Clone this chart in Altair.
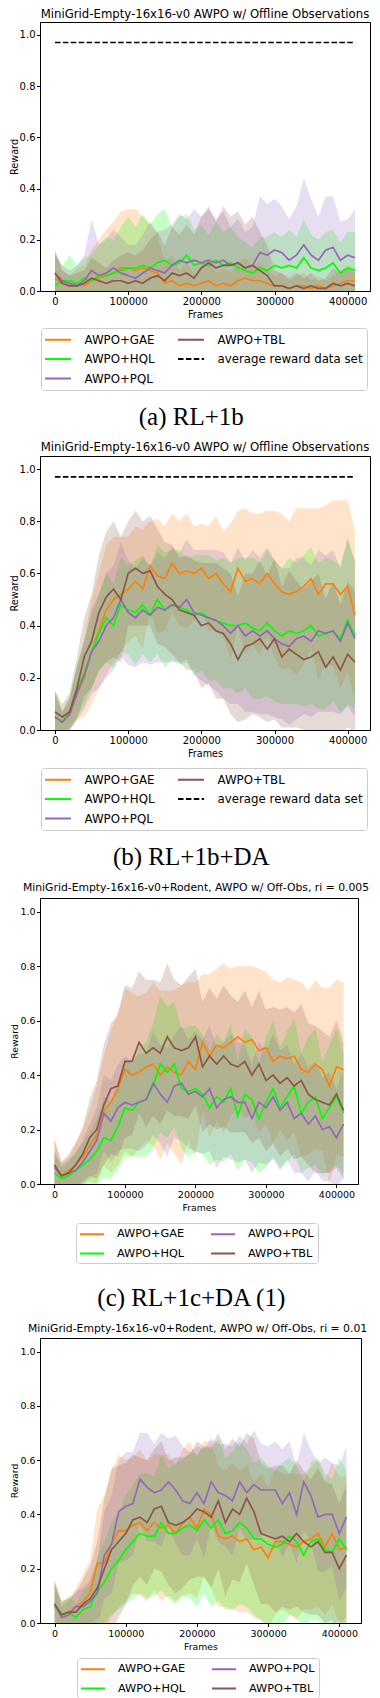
import altair as alt
import pandas as pd

FRAMES = [0, 10000, 20000, 30000, 40000, 50000, 60000, 70000, 80000, 90000,
          100000, 110000, 120000, 130000, 140000, 150000, 160000, 170000, 180000, 190000,
          200000, 210000, 220000, 230000, 240000, 250000, 260000, 270000, 280000, 290000,
          300000, 310000, 320000, 330000, 340000, 350000, 360000, 370000, 380000, 390000,
          400000, 410000]

GAE, HQL, PQL, TBL = "AWPO+GAE", "AWPO+HQL", "AWPO+PQL", "AWPO+TBL"
AVG = "average reward data set"
SERIES = [GAE, HQL, PQL, TBL]
COLORS = {GAE: "#ff7f0e", HQL: "#00ff00", PQL: "#9467bd", TBL: "#8c564b", AVG: "#000000"}

AVG_FRAMES = [0, 410000]
AVG_REWARD = [0.97, 0.97]

TITLE_A = "MiniGrid-Empty-16x16-v0 AWPO w/ Offline Observations"
TITLE_C = "MiniGrid-Empty-16x16-v0+Rodent, AWPO w/ Off-Obs, ri = 0.005"
TITLE_D = "MiniGrid-Empty-16x16-v0+Rodent, AWPO w/ Off-Obs, ri = 0.01"
CAPTIONS = ["(a) RL+1b", "(b) RL+1b+DA", "(c) RL+1c+DA (1)"]

A_GAE = [0.05,0.03,0.02,0.03,0.02,0.04,0.05,0.06,0.07,0.09, 0.09,0.08,0.09,0.08,0.07,0.03,0.04,0.02,0.03,0.02,
         0.03,0.04,0.02,0.03,0.02,0.04,0.05,0.04,0.04,0.03, 0.02,0.02,0.01,0.02,0.02,0.01,0.02,0.01,0.02,0.03, 0.04,0.04]
A_GAE_SD = [0.10,0.05,0.04,0.06,0.08,0.12,0.15,0.18,0.20,0.22, 0.23,0.24,0.20,0.18,0.15,0.08,0.10,0.06,0.08,0.05,
            0.07,0.08,0.05,0.06,0.05,0.07,0.08,0.06,0.07,0.05, 0.04,0.05,0.03,0.04,0.05,0.03,0.04,0.03,0.04,0.05, 0.06,0.05]
A_HQL = [0.02,0.04,0.04,0.03,0.05,0.04,0.06,0.06,0.07,0.08, 0.09,0.09,0.10,0.09,0.11,0.12,0.10,0.11,0.14,0.10,
         0.11,0.10,0.12,0.10,0.11,0.09,0.08,0.07,0.09,0.08, 0.10,0.09,0.10,0.09,0.13,0.09,0.08,0.09,0.11,0.07, 0.09,0.08]
A_HQL_SD = [0.12,0.06,0.10,0.07,0.08,0.10,0.12,0.15,0.13,0.17, 0.20,0.16,0.20,0.17,0.19,0.20,0.15,0.18,0.16,0.14,
            0.15,0.12,0.15,0.13,0.14,0.12,0.11,0.10,0.12,0.13, 0.13,0.12,0.14,0.12,0.15,0.13,0.12,0.14,0.13,0.12, 0.14,0.15]
A_PQL = [0.07,0.04,0.03,0.02,0.04,0.08,0.06,0.07,0.09,0.07, 0.06,0.05,0.07,0.09,0.08,0.07,0.10,0.12,0.11,0.12,
         0.11,0.12,0.11,0.12,0.10,0.11,0.09,0.10,0.15,0.14, 0.16,0.15,0.12,0.14,0.18,0.14,0.12,0.16,0.17,0.12, 0.14,0.13]
A_PQL_SD = [0.08,0.06,0.05,0.08,0.10,0.20,0.12,0.13,0.15,0.14, 0.12,0.13,0.15,0.18,0.15,0.17,0.16,0.18,0.17,0.20,
            0.18,0.20,0.17,0.19,0.15,0.17,0.14,0.15,0.22,0.20, 0.20,0.18,0.16,0.19,0.26,0.22,0.17,0.21,0.20,0.15, 0.14,0.19]
A_TBL = [0.07,0.03,0.02,0.02,0.03,0.05,0.04,0.03,0.04,0.04, 0.03,0.04,0.03,0.05,0.06,0.04,0.07,0.06,0.07,0.05,
         0.09,0.11,0.09,0.10,0.10,0.11,0.09,0.10,0.08,0.06, 0.02,0.02,0.01,0.02,0.01,0.02,0.01,0.01,0.03,0.02, 0.03,0.02]
A_TBL_SD = [0.09,0.05,0.04,0.05,0.05,0.08,0.07,0.06,0.08,0.10, 0.12,0.10,0.13,0.15,0.17,0.14,0.18,0.16,0.19,0.17,
            0.20,0.22,0.18,0.23,0.19,0.20,0.17,0.19,0.15,0.12, 0.06,0.05,0.04,0.05,0.04,0.05,0.03,0.04,0.06,0.05, 0.06,0.05]

B_GAE = [0.05,0.03,0.06,0.14,0.20,0.30,0.38,0.46,0.50,0.52, 0.54,0.57,0.54,0.63,0.59,0.58,0.64,0.60,0.61,0.60,
         0.62,0.58,0.60,0.56,0.53,0.62,0.57,0.58,0.56,0.60, 0.56,0.53,0.52,0.53,0.55,0.58,0.52,0.56,0.56,0.52, 0.55,0.44]
B_GAE_SD = [0.10,0.04,0.06,0.10,0.15,0.20,0.22,0.25,0.24,0.22, 0.20,0.21,0.23,0.17,0.22,0.20,0.19,0.20,0.22,0.18,
            0.17,0.20,0.22,0.20,0.26,0.22,0.28,0.25,0.27,0.24, 0.28,0.30,0.28,0.32,0.30,0.27,0.33,0.30,0.32,0.36, 0.33,0.32]
B_HQL = [0.05,0.03,0.07,0.15,0.22,0.30,0.37,0.43,0.40,0.48, 0.46,0.45,0.48,0.44,0.50,0.46,0.48,0.47,0.46,0.44,
         0.45,0.43,0.42,0.41,0.40,0.40,0.41,0.39,0.38,0.41, 0.38,0.36,0.38,0.37,0.38,0.40,0.36,0.37,0.38,0.35, 0.42,0.36]
B_HQL_SD = [0.10,0.04,0.06,0.10,0.12,0.14,0.15,0.17,0.16,0.18, 0.17,0.20,0.19,0.18,0.21,0.22,0.21,0.22,0.20,0.23,
            0.22,0.24,0.23,0.25,0.24,0.26,0.25,0.27,0.26,0.28, 0.27,0.26,0.28,0.27,0.29,0.30,0.28,0.29,0.27,0.28, 0.32,0.28]
B_PQL = [0.05,0.03,0.06,0.14,0.21,0.30,0.34,0.40,0.43,0.50, 0.45,0.43,0.46,0.44,0.47,0.46,0.48,0.47,0.50,0.45,
         0.44,0.43,0.42,0.40,0.37,0.40,0.36,0.38,0.36,0.38, 0.35,0.33,0.32,0.35,0.36,0.34,0.38,0.37,0.38,0.34, 0.41,0.35]
B_PQL_SD = [0.08,0.04,0.06,0.10,0.13,0.16,0.18,0.20,0.20,0.22, 0.20,0.19,0.20,0.19,0.21,0.20,0.22,0.21,0.23,0.24,
            0.25,0.26,0.27,0.28,0.27,0.30,0.29,0.31,0.30,0.32, 0.30,0.29,0.30,0.31,0.30,0.29,0.31,0.30,0.31,0.28, 0.32,0.30]
B_TBL = [0.07,0.05,0.07,0.16,0.28,0.34,0.45,0.51,0.54,0.50, 0.60,0.62,0.60,0.61,0.55,0.52,0.50,0.46,0.45,0.44,
         0.40,0.41,0.38,0.37,0.33,0.27,0.32,0.33,0.35,0.31, 0.35,0.28,0.31,0.29,0.27,0.28,0.30,0.24,0.28,0.23, 0.29,0.26]
B_TBL_SD = [0.08,0.05,0.07,0.12,0.15,0.18,0.22,0.25,0.26,0.24, 0.20,0.22,0.20,0.21,0.22,0.20,0.21,0.20,0.22,0.21,
            0.24,0.23,0.26,0.25,0.27,0.24,0.28,0.27,0.30,0.28, 0.31,0.27,0.30,0.28,0.27,0.29,0.30,0.26,0.29,0.25, 0.28,0.27]

C_GAE = [0.07,0.03,0.05,0.07,0.10,0.14,0.18,0.27,0.30,0.35, 0.42,0.40,0.41,0.43,0.44,0.40,0.43,0.41,0.40,0.45,
         0.42,0.52,0.47,0.51,0.50,0.52,0.54,0.52,0.53,0.49, 0.50,0.45,0.47,0.46,0.47,0.42,0.41,0.44,0.42,0.36, 0.43,0.42]
C_GAE_SD = [0.10,0.05,0.06,0.08,0.10,0.13,0.18,0.20,0.26,0.28, 0.30,0.30,0.28,0.27,0.30,0.31,0.28,0.30,0.33,0.29,
            0.32,0.25,0.30,0.28,0.31,0.27,0.26,0.28,0.27,0.30, 0.28,0.30,0.27,0.30,0.28,0.32,0.30,0.31,0.30,0.36, 0.32,0.32]
C_HQL = [0.04,0.02,0.03,0.05,0.07,0.09,0.12,0.17,0.16,0.21, 0.28,0.27,0.30,0.31,0.36,0.44,0.41,0.44,0.35,0.34,
         0.35,0.33,0.28,0.32,0.30,0.35,0.25,0.33,0.31,0.24, 0.30,0.35,0.28,0.32,0.36,0.26,0.30,0.32,0.24,0.28, 0.32,0.26]
C_HQL_SD = [0.07,0.04,0.05,0.07,0.08,0.10,0.12,0.15,0.14,0.16, 0.18,0.17,0.20,0.21,0.23,0.25,0.24,0.23,0.22,0.24,
            0.23,0.22,0.21,0.23,0.22,0.24,0.20,0.24,0.23,0.20, 0.24,0.25,0.22,0.24,0.25,0.22,0.24,0.25,0.21,0.23, 0.25,0.22]
C_PQL = [0.06,0.03,0.04,0.05,0.08,0.12,0.16,0.26,0.23,0.28, 0.30,0.29,0.30,0.31,0.37,0.33,0.30,0.36,0.37,0.33,
         0.34,0.32,0.35,0.28,0.31,0.32,0.30,0.30,0.24,0.30, 0.28,0.32,0.27,0.30,0.24,0.26,0.22,0.25,0.20,0.21, 0.17,0.22]
C_PQL_SD = [0.06,0.04,0.05,0.06,0.08,0.10,0.12,0.14,0.15,0.16, 0.17,0.16,0.18,0.17,0.19,0.18,0.20,0.19,0.21,0.20,
            0.22,0.21,0.23,0.22,0.21,0.23,0.22,0.21,0.20,0.22, 0.21,0.23,0.22,0.21,0.20,0.22,0.21,0.20,0.19,0.20, 0.18,0.20]
C_TBL = [0.07,0.03,0.04,0.07,0.11,0.17,0.20,0.29,0.35,0.36, 0.45,0.45,0.52,0.48,0.50,0.48,0.54,0.50,0.49,0.50,
         0.54,0.43,0.47,0.44,0.47,0.44,0.43,0.45,0.40,0.44, 0.38,0.40,0.37,0.39,0.36,0.38,0.33,0.31,0.30,0.29, 0.33,0.27]
C_TBL_SD = [0.09,0.05,0.06,0.08,0.10,0.14,0.18,0.22,0.24,0.26, 0.28,0.27,0.26,0.27,0.25,0.26,0.27,0.25,0.24,0.26,
            0.25,0.24,0.25,0.24,0.26,0.25,0.24,0.26,0.25,0.27, 0.26,0.25,0.27,0.26,0.27,0.28,0.26,0.27,0.26,0.25, 0.27,0.25]

D_GAE = [0.07,0.03,0.04,0.06,0.08,0.11,0.22,0.22,0.29,0.34, 0.34,0.36,0.37,0.34,0.37,0.35,0.36,0.33,0.37,0.39,
         0.35,0.42,0.40,0.32,0.31,0.32,0.30,0.31,0.27,0.28, 0.24,0.30,0.30,0.29,0.28,0.30,0.31,0.33,0.28,0.33, 0.27,0.28]
D_GAE_SD = [0.09,0.05,0.05,0.07,0.10,0.12,0.20,0.25,0.27,0.28, 0.26,0.25,0.27,0.26,0.25,0.27,0.26,0.25,0.27,0.28,
            0.26,0.25,0.27,0.26,0.25,0.27,0.26,0.27,0.25,0.27, 0.26,0.27,0.25,0.26,0.27,0.25,0.26,0.27,0.25,0.26, 0.27,0.26]
D_HQL = [0.06,0.03,0.04,0.02,0.05,0.06,0.12,0.15,0.20,0.23, 0.27,0.30,0.33,0.32,0.32,0.37,0.33,0.33,0.35,0.36,
         0.34,0.38,0.35,0.38,0.33,0.34,0.37,0.35,0.31,0.31, 0.29,0.28,0.29,0.32,0.30,0.25,0.30,0.31,0.27,0.26, 0.31,0.27]
D_HQL_SD = [0.08,0.04,0.06,0.05,0.07,0.08,0.12,0.15,0.17,0.18, 0.20,0.21,0.22,0.23,0.22,0.25,0.24,0.26,0.25,0.27,
            0.28,0.27,0.29,0.30,0.28,0.29,0.30,0.29,0.28,0.30, 0.29,0.28,0.30,0.29,0.28,0.27,0.29,0.30,0.28,0.27, 0.30,0.29]
D_PQL = [0.07,0.02,0.03,0.06,0.06,0.08,0.11,0.25,0.29,0.41, 0.43,0.44,0.53,0.50,0.48,0.49,0.52,0.49,0.45,0.44,
         0.48,0.44,0.52,0.48,0.47,0.45,0.52,0.48,0.51,0.49, 0.49,0.49,0.44,0.48,0.40,0.52,0.47,0.39,0.40,0.40, 0.33,0.39]
D_PQL_SD = [0.08,0.04,0.05,0.06,0.07,0.08,0.12,0.16,0.18,0.19, 0.20,0.19,0.17,0.20,0.18,0.21,0.16,0.20,0.20,0.19,
            0.17,0.20,0.16,0.18,0.19,0.20,0.17,0.18,0.20,0.17, 0.16,0.18,0.20,0.19,0.18,0.18,0.17,0.20,0.21,0.19, 0.25,0.26]
D_TBL = [0.07,0.03,0.04,0.04,0.07,0.09,0.13,0.20,0.27,0.30, 0.33,0.38,0.39,0.37,0.42,0.43,0.37,0.36,0.37,0.39,
         0.42,0.41,0.39,0.45,0.37,0.42,0.40,0.46,0.41,0.33, 0.32,0.31,0.32,0.30,0.33,0.30,0.28,0.30,0.26,0.26, 0.20,0.25]
D_TBL_SD = [0.08,0.05,0.05,0.07,0.09,0.12,0.17,0.26,0.30,0.28, 0.26,0.24,0.22,0.23,0.22,0.24,0.23,0.25,0.24,0.23,
            0.25,0.24,0.26,0.25,0.27,0.26,0.25,0.24,0.27,0.26, 0.25,0.27,0.26,0.25,0.27,0.26,0.25,0.27,0.26,0.25, 0.24,0.26]

X_TICKS = [0, 100000, 200000, 300000, 400000]
Y_TICKS = [0.0, 0.2, 0.4, 0.6, 0.8, 1.0]
FONT = "DejaVu Sans"


def build_frames(means, sds):
    rows = []
    for s in SERIES:
        for f, m, sd in zip(FRAMES, means[s], sds[s]):
            rows.append({"frames": f, "series": s, "band": s + " band", "mean": m, "lo": m - sd, "hi": m + sd})
    return pd.DataFrame(rows)


def make_panel(means, sds, title, order, width, height, st, with_avg, caption=None):
    df = build_frames(means, sds)
    xs = alt.Scale(domain=[-20500, 430500], nice=False, zero=False)
    ys = alt.Scale(domain=[0, 1.05], nice=False, zero=False)
    xaxis = alt.Axis(values=X_TICKS, format="d", labelFontSize=st["tick"], titleFontSize=st["axt"],
                     labelFont=FONT, titleFont=FONT, titleFontWeight="normal", tickSize=3.5,
                     labelPadding=2, titlePadding=st["xtp"], grid=False, labelFlush=False,
                     labelColor="black", titleColor="black", tickColor="black", domainColor="black")
    yaxis = alt.Axis(values=Y_TICKS, format=".1f", labelFontSize=st["tick"], titleFontSize=st["axt"],
                     labelFont=FONT, titleFont=FONT, titleFontWeight="normal", tickSize=3.5,
                     labelPadding=1.5, titleX=-21, titleY=height / 2, grid=False, labelFlush=False,
                     labelColor="black", titleColor="black", tickColor="black", domainColor="black")
    bands = [s + " band" for s in SERIES]
    fill_scale = alt.Scale(domain=bands, range=[COLORS[s] for s in SERIES])
    band = alt.Chart(df).mark_area(opacity=0.22, clip=True).encode(
        x=alt.X("frames:Q", scale=xs, axis=xaxis, title="Frames"),
        y=alt.Y("lo:Q", scale=ys, axis=yaxis, title="Reward"),
        y2="hi:Q",
        fill=alt.Fill("band:N", scale=fill_scale, legend=None),
    )
    ldf = df[["frames", "series", "mean"]].copy()
    if with_avg:
        ldf = pd.concat([ldf, pd.DataFrame({"frames": AVG_FRAMES, "series": AVG, "mean": AVG_REWARD})],
                        ignore_index=True)
    cscale = alt.Scale(domain=order, range=[COLORS[s] for s in order])
    dscale = alt.Scale(domain=order, range=[[5.5, 2.4] if s == AVG else [1, 0] for s in order])
    s = st["sym"]
    leg = alt.Legend(title=None, orient="none", legendX=st["lx"], legendY=st["ly"], columns=2,
                     symbolType="M-2,0H2", symbolSize=s * s, symbolStrokeWidth=2,
                     symbolOffset=st["soff"], labelOffset=st["loff"],
                     labelFont=FONT, labelFontSize=st["leg"], labelColor="black",
                     rowPadding=st["rowpad"], columnPadding=st["colpad"], padding=st["pad"],
                     strokeColor="#cccccc", fillColor="white", cornerRadius=3)
    line = alt.Chart(ldf).mark_line(strokeWidth=1.7, clip=True).encode(
        x=alt.X("frames:Q", scale=xs, axis=xaxis, title="Frames"),
        y=alt.Y("mean:Q", scale=ys, axis=yaxis, title="Reward"),
        color=alt.Color("series:N", scale=cscale, legend=leg),
        strokeDash=alt.StrokeDash("series:N", scale=dscale, legend=leg),
    )
    layers = [band, line]
    if caption is not None:
        cap = alt.Chart(pd.DataFrame({"caption": [caption]})).mark_text(
            font="Liberation Serif", fontSize=25, align="center", baseline="alphabetic", color="black"
        ).encode(text="caption:N", x=alt.value(151.3), y=alt.value(st["capy"]))
        layers.append(cap)
    return alt.layer(*layers).properties(
        width=width, height=height,
        title=alt.TitleParams(text=title, fontSize=st["title"], font=FONT, fontWeight="normal",
                              color="black", anchor="middle", frame="group", offset=st["toff"],
                              baseline="top", dx=st["tdx"]),
    )


ST_AB = dict(tick=10, axt=9.7, title=11.7, leg=11.8, sym=13, soff=5.5, loff=19, rowpad=4.5,
             colpad=19, pad=4, tdx=0, xtp=3)
ST_CD = dict(tick=9.5, axt=9.3, title=10.8, leg=11.3, sym=12, soff=5, loff=18, rowpad=6.5,
             colpad=22, pad=4, tdx=-3, xtp=4)

order_ab = [GAE, HQL, PQL, TBL, AVG]
order_cd = [GAE, HQL, PQL, TBL]

pa = make_panel({GAE: A_GAE, HQL: A_HQL, PQL: A_PQL, TBL: A_TBL},
                {GAE: A_GAE_SD, HQL: A_HQL_SD, PQL: A_PQL_SD, TBL: A_TBL_SD},
                TITLE_A, order_ab, 330, 269, dict(ST_AB, lx=1, ly=306, toff=1.3, capy=403), True,
                CAPTIONS[0])
pb = make_panel({GAE: B_GAE, HQL: B_HQL, PQL: B_PQL, TBL: B_TBL},
                {GAE: B_GAE_SD, HQL: B_HQL_SD, PQL: B_PQL_SD, TBL: B_TBL_SD},
                TITLE_A, order_ab, 330, 274, dict(ST_AB, lx=1, ly=312, toff=2.3, capy=409), True,
                CAPTIONS[1])
pc = make_panel({GAE: C_GAE, HQL: C_HQL, PQL: C_PQL, TBL: C_TBL},
                {GAE: C_GAE_SD, HQL: C_HQL_SD, PQL: C_PQL_SD, TBL: C_TBL_SD},
                TITLE_C, order_cd, 318, 286, dict(ST_CD, lx=36, ly=325, toff=5.2, capy=408), False,
                CAPTIONS[2])
pd_ = make_panel({GAE: D_GAE, HQL: D_HQL, PQL: D_PQL, TBL: D_TBL},
                 {GAE: D_GAE_SD, HQL: D_HQL_SD, PQL: D_PQL_SD, TBL: D_TBL_SD},
                 TITLE_D, order_cd, 321, 285, dict(ST_CD, lx=37, ly=320, toff=4.2), False)

chart = alt.vconcat(pa, pb, pc, pd_, spacing=10).properties(
    padding=0, background="white"
).configure_view(
    stroke="black", strokeWidth=1
).resolve_scale(color="independent", fill="independent", strokeDash="independent")

chart.save("out.html", embed_options={"renderer": "svg", "actions": False})
